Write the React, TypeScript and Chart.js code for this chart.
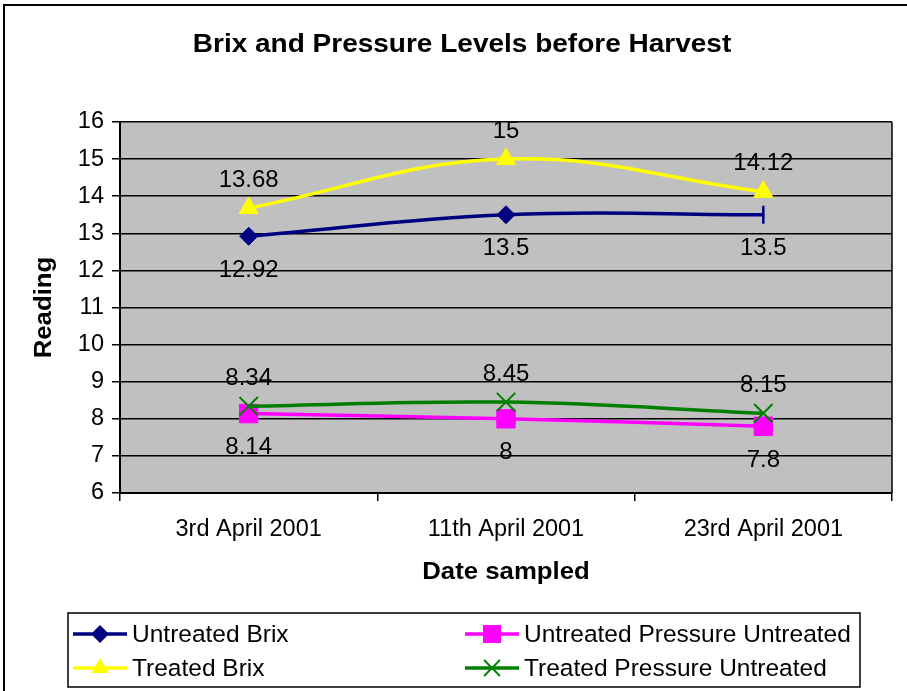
import React, { useEffect, useRef } from 'react';
import { Chart, registerables } from 'chart.js';

Chart.register(...registerables);

// ---- data ----
const categories = ['3rd April 2001', '11th April 2001', '23rd April 2001'];
const untreatedBrix = [12.92, 13.5, 13.5];
const treatedBrix = [13.68, 15, 14.12];
const untreatedPressure = [8.14, 8, 7.8];
const treatedPressure = [8.34, 8.45, 8.15];
const yMin = 6;
const yMax = 16;
const yStep = 1;
const seriesNames = ['Untreated Brix', 'Treated Brix', 'Untreated Pressure Untreated', 'Treated Pressure Untreated'];
const chartTitle = 'Brix and Pressure Levels before Harvest';
const xTitle = 'Date sampled';
const yTitle = 'Reading';

// ---- styles ----
const FONT = '"Liberation Sans", Arial, sans-serif';
const NAVY = '#000080';
const YELLOW = '#FFFF00';
const MAGENTA = '#FF00FF';
const GREEN = '#008000';
const PLOT_BG = '#C0C0C0';
const labelSide = ['below', 'above', 'below', 'above'];

type Marker = 'diamond' | 'triangle' | 'square' | 'x' | 'vline';

function drawMarker(ctx: CanvasRenderingContext2D, m: Marker, x: number, y: number, r: number, color: string) {
  ctx.save();
  ctx.fillStyle = color;
  ctx.strokeStyle = color;
  ctx.beginPath();
  if (m === 'diamond') {
    ctx.moveTo(x - r, y); ctx.lineTo(x, y - r); ctx.lineTo(x + r, y); ctx.lineTo(x, y + r); ctx.closePath();
    ctx.fill();
  } else if (m === 'triangle') {
    ctx.moveTo(x, y - r); ctx.lineTo(x + r * 0.866, y + r * 0.5); ctx.lineTo(x - r * 0.866, y + r * 0.5); ctx.closePath();
    ctx.fill();
  } else if (m === 'square') {
    ctx.rect(x - r, y - r, 2 * r, 2 * r);
    ctx.fill();
  } else if (m === 'x') {
    ctx.lineWidth = 1.8;
    ctx.moveTo(x - r, y - r); ctx.lineTo(x + r, y + r); ctx.moveTo(x + r, y - r); ctx.lineTo(x - r, y + r);
    ctx.stroke();
  } else {
    ctx.lineWidth = 2.5;
    ctx.moveTo(x, y - r); ctx.lineTo(x, y + r);
    ctx.stroke();
  }
  ctx.restore();
}

function stretchedText(ctx: CanvasRenderingContext2D, text: string, x: number, y: number, font: string, sx: number, rot = 0) {
  ctx.save();
  ctx.translate(x, y);
  if (rot) ctx.rotate(rot);
  ctx.scale(sx, 1);
  ctx.font = font;
  ctx.fillStyle = '#000';
  ctx.textAlign = 'center';
  ctx.textBaseline = 'middle';
  ctx.fillText(text, 0, 0);
  ctx.restore();
}

const decorPlugin = {
  id: 'decor',
  beforeDraw(chart: any) {
    const { ctx, chartArea: a } = chart;
    ctx.save();
    ctx.fillStyle = '#fff';
    ctx.fillRect(0, 0, chart.width, chart.height);
    ctx.fillStyle = PLOT_BG;
    ctx.fillRect(a.left, a.top, a.right - a.left, a.bottom - a.top);
    ctx.restore();
  },
  afterDraw(chart: any) {
    const { ctx, chartArea: a } = chart;
    ctx.save();
    // plot right border
    ctx.strokeStyle = '#000';
    ctx.lineWidth = 1.5;
    ctx.beginPath();
    ctx.moveTo(a.right, a.top);
    ctx.lineTo(a.right, a.bottom);
    ctx.stroke();
    // outer chart border (left & top visible)
    ctx.lineWidth = 2;
    ctx.beginPath();
    ctx.moveTo(4, chart.height);
    ctx.lineTo(4, 5);
    ctx.lineTo(chart.width, 5);
    ctx.stroke();
    ctx.restore();

    // titles
    stretchedText(ctx, chartTitle, 462, 45, `bold 25px ${FONT}`, 1.12);
    stretchedText(ctx, xTitle, (a.left + a.right) / 2, 573, `bold 23px ${FONT}`, 1.12);
    stretchedText(ctx, yTitle, 45, (a.top + a.bottom) / 2, `bold 23px ${FONT}`, 1.12, -Math.PI / 2);

    // legend
    const lx = 68, ly = 613, lw = 792, lh = 74;
    ctx.save();
    ctx.strokeStyle = '#000';
    ctx.lineWidth = 1.5;
    ctx.strokeRect(lx, ly, lw, lh);
    const items = [
      { name: seriesNames[0], color: NAVY, m: 'diamond' as Marker, r: 9, col: 0, row: 0 },
      { name: seriesNames[1], color: YELLOW, m: 'triangle' as Marker, r: 10, col: 0, row: 1 },
      { name: seriesNames[2], color: MAGENTA, m: 'square' as Marker, r: 9, col: 1, row: 0 },
      { name: seriesNames[3], color: GREEN, m: 'x' as Marker, r: 8, col: 1, row: 1 },
    ];
    const colX = [73, 465];
    const rowY = [634, 668];
    items.forEach((it) => {
      const x0 = colX[it.col];
      const y0 = rowY[it.row];
      ctx.strokeStyle = it.color;
      ctx.lineWidth = 3.5;
      ctx.beginPath();
      ctx.moveTo(x0, y0);
      ctx.lineTo(x0 + 54, y0);
      ctx.stroke();
      drawMarker(ctx, it.m, x0 + 27, y0, it.r, it.color);
      ctx.fillStyle = '#000';
      ctx.font = `24.5px ${FONT}`;
      ctx.textAlign = 'left';
      ctx.textBaseline = 'middle';
      ctx.fillText(it.name, x0 + 59, y0 + 1);
    });
    ctx.restore();
  },
  afterDatasetsDraw(chart: any) {
    const { ctx } = chart;
    ctx.save();
    ctx.fillStyle = '#000';
    ctx.font = `24px ${FONT}`;
    ctx.textAlign = 'center';
    ctx.textBaseline = 'middle';
    chart.data.datasets.forEach((ds: any, i: number) => {
      const meta = chart.getDatasetMeta(i);
      meta.data.forEach((pt: any, j: number) => {
        const dy = labelSide[i] === 'above' ? -28 : 34;
        ctx.fillText(String(ds.data[j]), pt.x, pt.y + dy);
      });
    });
    ctx.restore();
  },
};

export default function App() {
  const ref = useRef<HTMLCanvasElement | null>(null);
  useEffect(() => {
    document.body.style.margin = '0';
    const canvas = ref.current;
    if (!canvas) return;
    const common = { borderWidth: 3.5, tension: 0.4, fill: false, clip: false as any };
    const chart = new Chart(canvas, {
      type: 'line',
      data: {
        labels: categories,
        datasets: [
          {
            ...common,
            label: seriesNames[0],
            data: untreatedBrix,
            borderColor: NAVY,
            backgroundColor: NAVY,
            pointBackgroundColor: NAVY,
            pointBorderColor: NAVY,
            pointStyle: ['rectRot', 'rectRot', 'line'] as any,
            pointRotation: [0, 0, 90] as any,
            pointRadius: [9, 9, 9] as any,
            pointBorderWidth: [1, 1, 2.5] as any,
            order: 4,
          },
          {
            ...common,
            label: seriesNames[1],
            data: treatedBrix,
            borderColor: YELLOW,
            backgroundColor: YELLOW,
            pointBackgroundColor: YELLOW,
            pointBorderColor: YELLOW,
            pointStyle: 'triangle',
            pointRadius: 11,
            pointBorderWidth: 1,
            order: 3,
          },
          {
            ...common,
            label: seriesNames[2],
            data: untreatedPressure,
            borderColor: MAGENTA,
            backgroundColor: MAGENTA,
            pointBackgroundColor: MAGENTA,
            pointBorderColor: MAGENTA,
            pointStyle: 'rect',
            pointRadius: 13,
            pointBorderWidth: 1,
            order: 2,
          },
          {
            ...common,
            label: seriesNames[3],
            data: treatedPressure,
            borderColor: GREEN,
            backgroundColor: GREEN,
            pointBackgroundColor: GREEN,
            pointBorderColor: GREEN,
            pointStyle: 'crossRot',
            pointRadius: 13,
            pointBorderWidth: 2,
            order: 1,
          },
        ],
      },
      options: {
        responsive: false,
        animation: false,
        events: [],
        layout: { padding: { top: 122, right: 14, bottom: 98, left: 0 } },
        plugins: {
          legend: { display: false },
          title: { display: false },
          tooltip: { enabled: false },
        },
        scales: {
          x: {
            type: 'category',
            offset: true,
            grid: { offset: true, drawOnChartArea: false, drawTicks: true, tickLength: 8, color: '#000', lineWidth: 1.5 },
            border: { display: true, color: '#000', width: 2 },
            ticks: { color: '#000', font: { family: FONT, size: 23.5 }, padding: 14, maxRotation: 0, autoSkip: false },
            afterFit: (s: any) => { s.height = 100; },
          },
          y: {
            min: yMin,
            max: yMax,
            grid: { color: '#000', lineWidth: 1.5, tickLength: 8, drawTicks: true },
            border: { display: true, color: '#000', width: 2 },
            ticks: { stepSize: yStep, color: '#000', font: { family: FONT, size: 23.5 }, padding: 8 },
            afterFit: (s: any) => { s.width = 120; },
          },
        },
      },
      plugins: [decorPlugin],
    });
    return () => chart.destroy();
  }, []);
  return <canvas ref={ref} width={907} height={691} style={{ display: 'block' }} />;
}
